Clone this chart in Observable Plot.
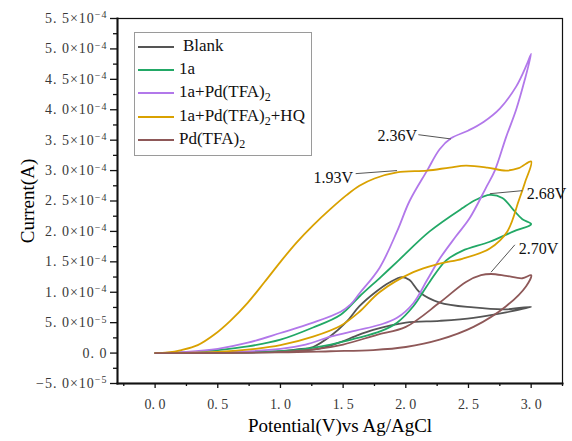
<!DOCTYPE html>
<html>
<head>
<meta charset="utf-8">
<script src="https://cdn.jsdelivr.net/npm/d3@7"></script>
<script src="https://cdn.jsdelivr.net/npm/@observablehq/plot@0.6"></script>
<style>
  html, body { margin: 0; padding: 0; background: #fff; }
  #wrap { position: relative; width: 572px; height: 441px; font-family: "Liberation Serif", serif; }
  #legend { position: absolute; left: 134px; top: 32px; width: 176px; height: 122px; border: 1px solid #9a9a9a; background: #fff; }
  .row { position: absolute; left: 0; height: 20px; width: 176px; }
  .row .sw { position: absolute; left: 3px; top: 10px; width: 36px; height: 0; border-top: 2px solid; }
  .row .lb { position: absolute; left: 44px; top: 0; font-size: 17px; line-height: 20px; color: #111; white-space: nowrap; }
  .row .lb sub { font-size: 12px; vertical-align: -4px; line-height: 0; }
  .ytick { font-size: 14px !important; letter-spacing: 1px; }
  .xtick { font-size: 14px !important; }
</style>
</head>
<body>
<div id="wrap"><div id="chart"></div><div id="legend"></div></div>
<script>
// Current values are in units of 1e-4 A; potential in V vs Ag/AgCl
const SCALE = 1e-4;

const seriesNames = ["Blank", "1a", "1a+Pd(TFA)2", "1a+Pd(TFA)2+HQ", "Pd(TFA)2"];
const seriesLabels = ["Blank", "1a", "1a+Pd(TFA)<sub>2</sub>", "1a+Pd(TFA)<sub>2</sub>+HQ", "Pd(TFA)<sub>2</sub>"];
const seriesColors = ["#555555", "#22a866", "#b278ea", "#d9a100", "#8e5858"];

// [potential, current] forward (0 -> 3 V) and reverse (3 -> 0 V) scans
const blankFwd = [[0,0],[0.5,0.01],[1.0,0.03],[1.13,0.06],[1.26,0.1],[1.4,0.28],[1.53,0.52],[1.63,0.77],[1.77,1.02],[1.87,1.16],[1.97,1.25],[2.03,1.2],[2.11,1.0],[2.27,0.83],[2.54,0.75],[2.8,0.72],[3.0,0.76]];
const blankRev = [[3.0,0.76],[2.8,0.67],[2.54,0.58],[2.27,0.53],[2.0,0.5],[1.74,0.38],[1.6,0.28],[1.48,0.18],[1.3,0.07],[1.0,0.02],[0.5,0.005],[0,0]];

const greenFwd = [[0,0],[0.25,0.01],[0.5,0.05],[0.74,0.11],[1.0,0.22],[1.26,0.42],[1.48,0.63],[1.63,0.93],[1.8,1.25],[1.93,1.5],[2.19,2.0],[2.45,2.38],[2.56,2.52],[2.67,2.6],[2.77,2.55],[2.86,2.35],[2.93,2.2],[3.0,2.12]];
const greenRev = [[3.0,2.12],[2.86,2.0],[2.67,1.83],[2.45,1.68],[2.32,1.52],[2.19,1.17],[2.06,0.77],[1.93,0.5],[1.8,0.36],[1.6,0.24],[1.4,0.14],[1.2,0.07],[1.0,0.03],[0.5,0.005],[0,0]];

const purpleFwd = [[0,0],[0.25,0.02],[0.5,0.07],[0.74,0.17],[1.0,0.33],[1.26,0.5],[1.48,0.68],[1.56,0.8],[1.63,0.98],[1.79,1.4],[1.93,2.0],[2.03,2.5],[2.17,3.0],[2.27,3.35],[2.36,3.53],[2.5,3.66],[2.62,3.8],[2.75,4.02],[2.88,4.38],[2.96,4.72],[3.0,4.92]];
const purpleRev = [[3.0,4.92],[2.95,4.5],[2.88,4.0],[2.8,3.55],[2.71,3.0],[2.64,2.72],[2.51,2.22],[2.4,1.92],[2.27,1.55],[2.17,1.2],[2.06,0.82],[1.93,0.58],[1.8,0.47],[1.6,0.37],[1.4,0.27],[1.2,0.14],[1.0,0.07],[0.5,0.01],[0,0]];

const goldFwd = [[0,0],[0.1,0.01],[0.21,0.05],[0.34,0.13],[0.47,0.3],[0.6,0.53],[0.74,0.83],[0.87,1.16],[1.0,1.5],[1.13,1.82],[1.26,2.1],[1.4,2.37],[1.53,2.6],[1.63,2.75],[1.75,2.87],[1.93,2.97],[2.17,3.0],[2.35,3.05],[2.48,3.08],[2.65,3.05],[2.8,3.0],[2.9,3.04],[3.0,3.15]];
const goldRev = [[3.0,3.15],[2.95,2.8],[2.9,2.5],[2.81,2.0],[2.67,1.72],[2.45,1.55],[2.27,1.47],[2.06,1.33],[1.79,1.0],[1.63,0.68],[1.48,0.45],[1.26,0.27],[1.0,0.13],[0.8,0.07],[0.5,0.02],[0,0]];

const brownFwd = [[0,0],[1.0,0.02],[1.3,0.07],[1.5,0.14],[1.77,0.3],[2.0,0.43],[2.27,0.83],[2.48,1.17],[2.6,1.28],[2.68,1.3],[2.8,1.27],[2.93,1.23],[3.0,1.28]];
const brownRev = [[3.0,1.28],[2.96,1.1],[2.8,0.77],[2.54,0.43],[2.27,0.22],[2.0,0.1],[1.74,0.05],[1.4,0.03],[1.0,0.01],[0,0]];

const seriesScans = [[blankFwd, blankRev], [greenFwd, greenRev], [purpleFwd, purpleRev], [goldFwd, goldRev], [brownFwd, brownRev]];

// annotations: label, text anchor point (V, I), arrow start and tip (V, I)
const annLabels = ["2.36V", "1.93V", "2.68V", "2.70V"];
const annTextPos = [[2.09, 3.57], [1.58, 2.88], [2.965, 2.62], [2.9, 1.72]];
const annTextAnchor = ["end", "end", "start", "start"];
const annStart = [[2.1, 3.59], [1.6, 2.95], [2.93, 2.67], [2.87, 1.78]];
const annTip = [[2.36, 3.52], [1.93, 3.0], [2.67, 2.62], [2.68, 1.33]];

const potentialTicks = [0, 0.5, 1.0, 1.5, 2.0, 2.5, 3.0];
const potentialMinor = [-0.25, 0.25, 0.75, 1.25, 1.75, 2.25, 2.75, 3.25];
const currentTicks = [-0.5, 0, 0.5, 1.0, 1.5, 2.0, 2.5, 3.0, 3.5, 4.0, 4.5, 5.0, 5.5];
const currentMinor = [-0.25, 0.25, 0.75, 1.25, 1.75, 2.25, 2.75, 3.25, 3.75, 4.25, 4.75, 5.25];

// build table
const rows = [];
seriesScans.forEach((scans, si) => {
  const pts = scans[0].concat(scans[1].slice(1));
  pts.forEach((p, i) => rows.push({series: seriesNames[si], order: i, V: p[0], I: p[1] * SCALE}));
});
const ann = annLabels.map((l, i) => ({
  label: l, tx: annTextPos[i][0], ty: annTextPos[i][1] * SCALE, anchor: annTextAnchor[i],
  x1: annStart[i][0], y1: annStart[i][1] * SCALE, x2: annTip[i][0], y2: annTip[i][1] * SCALE
}));

function fmtY(v) {
  if (Math.abs(v) < 1e-12) return "0. 0";
  const [m, e] = v.toExponential(1).split("e");
  return (m.replace("-", "\u2212").replace(".", ". ")) + "\u00d710^" + e.replace("-", "\u2212");
}
function fmtX(v) { return "§" + v.toFixed(1).replace(".", ". ").replace("-", "\u2212"); }

const plot = Plot.plot({
  width: 572, height: 441,
  marginLeft: 117, marginRight: 10, marginTop: 18, marginBottom: 58,
  style: {fontFamily: "Liberation Serif, serif", fontSize: "14px", background: "white", color: "#111"},
  x: {domain: [-0.3, 3.25]},
  y: {domain: [-0.5e-4, 5.5e-4]},
  color: {domain: seriesNames, range: seriesColors},
  marks: [
    Plot.axisX({ticks: potentialTicks, tickFormat: fmtX, tickSize: 5, tickPadding: 11, label: null, fill: "#383838", strokeWidth: 1.3}),
    Plot.axisX({ticks: potentialMinor, tickSize: 3, text: null, label: null, strokeWidth: 1.3}),
    Plot.axisY({ticks: currentTicks.map(d => d * SCALE), tickFormat: fmtY, tickSize: 7, tickPadding: 3, label: null, fill: "#383838", strokeWidth: 1.3}),
    Plot.axisY({ticks: currentMinor.map(d => d * SCALE), tickSize: 4, text: null, label: null, strokeWidth: 1.3}),
    Plot.line(rows, {x: "V", y: "I", z: "series", stroke: "series", strokeWidth: 1.8, curve: "catmull-rom", sort: {channel: null}}),
    Plot.link(ann, {x1: "x1", y1: "y1", x2: "x2", y2: "y2", stroke: "#555", strokeWidth: 1, ariaLabel: "annot-arrow"}),
    Plot.text(ann.filter(d => d.anchor === "end"), {x: "tx", y: "ty", text: "label", textAnchor: "end", fontSize: 16, fill: "#111"}),
    Plot.text(ann.filter(d => d.anchor === "start"), {x: "tx", y: "ty", text: "label", textAnchor: "start", fontSize: 16, fill: "#111"}),
    Plot.frame({stroke: "#111", strokeWidth: 1.2}),
    Plot.frame({anchor: "left", stroke: "#111", strokeWidth: 2}),
    Plot.frame({anchor: "bottom", stroke: "#111", strokeWidth: 2}),
    Plot.text(["Current(A)"], {frameAnchor: "left", textAnchor: "middle", dx: -90, rotate: -90, fontSize: 19, fill: "#000"}),
    Plot.text(["Potential(V)vs Ag/AgCl"], {frameAnchor: "bottom", textAnchor: "middle", dy: 48, fontSize: 19, fill: "#000"})
  ]
});
document.getElementById("chart").appendChild(plot);

// tick label styling and superscript exponents
d3.select(plot).selectAll("text").each(function() {
  const t = this.textContent;
  const sel = d3.select(this);
  if (t.startsWith("§")) {
    sel.text(t.slice(1)).attr("class", "xtick").attr("font-size", 14);
  } else if (t.includes("^")) {
    const [base, exp] = t.split("^");
    sel.text(base).attr("class", "ytick").attr("font-size", 14);
    sel.append("tspan").attr("dy", "-0.45em").attr("font-size", "10px").style("font-size", "10px").text(exp);
  } else if (t === "0. 0") {
    sel.attr("class", "ytick").attr("font-size", 14);
  }
});

// filled arrowheads on annotation links
const svgSel = d3.select(plot);
const defs = svgSel.insert("defs", ":first-child");
defs.append("marker").attr("id", "ahead").attr("viewBox", "0 0 10 6").attr("refX", 10).attr("refY", 3)
  .attr("markerWidth", 11).attr("markerHeight", 6).attr("markerUnits", "userSpaceOnUse").attr("orient", "auto")
  .append("path").attr("d", "M0,0L10,3L0,6Z").attr("fill", "#000");
svgSel.selectAll('g[aria-label="annot-arrow"] path').attr("marker-end", "url(#ahead)");

// legend
const leg = d3.select("#legend");
seriesNames.forEach((n, i) => {
  const r = leg.append("div").attr("class", "row").style("top", (3 + i * 23.2) + "px");
  r.append("div").attr("class", "sw").style("border-color", seriesColors[i]);
  r.append("div").attr("class", "lb").style("left", i === 0 ? "48px" : "44px").html(seriesLabels[i]);
});
</script>
</body>
</html>
